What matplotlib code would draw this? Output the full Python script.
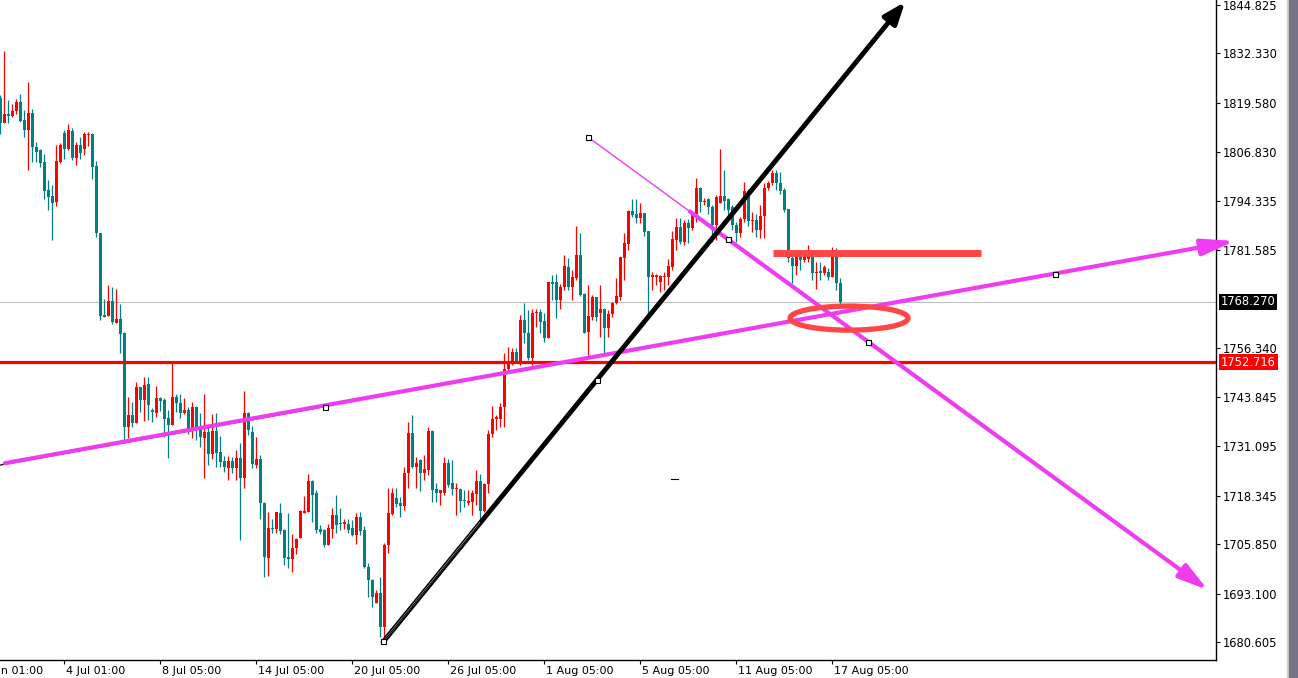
import numpy as np
import matplotlib.pyplot as plt
import matplotlib.transforms as mtransforms
from matplotlib.patches import Ellipse, Rectangle

# H4 candles (price units)
opens = [
    1820.85, 1814.40, 1816.72, 1816.21, 1817.49, 1819.81, 1815.17, 1812.60, 1816.98, 1808.21,
    1807.44, 1804.35, 1797.13, 1795.58, 1794.04, 1804.35, 1811.82, 1807.70, 1812.34, 1805.38,
    1808.73, 1807.70, 1811.31, 1811.56, 1803.32, 1786.04, 1764.90, 1764.65, 1768.51, 1762.84,
    1763.87, 1760.26, 1736.03, 1739.12, 1737.06, 1746.34, 1742.99, 1747.11, 1740.41, 1739.64,
    1743.50, 1742.99, 1738.35, 1736.54, 1743.76, 1742.22, 1739.64, 1740.41, 1735.51, 1741.18,
    1736.03, 1733.19, 1734.74, 1729.07, 1735.00, 1729.58, 1727.27, 1725.46, 1727.27, 1725.46,
    1728.04, 1722.88, 1739.64, 1734.74, 1726.23, 1727.78, 1716.44, 1702.26, 1709.99, 1709.73,
    1713.86, 1709.48, 1702.52, 1702.00, 1704.84, 1707.41, 1713.86, 1714.12, 1722.11, 1719.01,
    1709.73, 1709.48, 1705.61, 1709.73, 1713.34, 1711.28, 1711.02, 1711.02, 1709.99, 1708.19,
    1712.83, 1709.48, 1699.94, 1696.59, 1690.66, 1693.24, 1684.47, 1705.61, 1713.60, 1717.73,
    1716.44, 1715.66, 1724.17, 1734.48, 1725.72, 1727.52, 1724.17, 1724.94, 1735.00, 1720.04,
    1719.01, 1719.01, 1726.75, 1721.59, 1720.04, 1720.04, 1717.21, 1716.44, 1716.69, 1718.76,
    1722.11, 1714.37, 1721.33, 1734.22, 1738.09, 1738.09, 1741.18, 1750.98, 1752.78, 1755.37,
    1752.78, 1763.61, 1760.26, 1753.82, 1765.42, 1765.68, 1763.36, 1758.97, 1773.41, 1773.41,
    1768.77, 1772.12, 1777.28, 1772.12, 1774.44, 1780.37, 1770.32, 1760.52, 1764.39, 1769.54,
    1765.42, 1766.45, 1761.55, 1765.16, 1768.00, 1769.54, 1779.60, 1783.21, 1791.71, 1790.94,
    1789.91, 1791.20, 1786.56, 1774.70, 1774.70, 1773.41, 1774.70, 1774.70, 1777.28, 1784.24,
    1787.59, 1783.72, 1788.62, 1787.33, 1790.94, 1797.64, 1794.04, 1794.81, 1792.75, 1788.10,
    1793.78, 1795.58, 1794.81, 1792.75, 1788.10, 1786.04, 1789.65, 1796.87, 1789.14, 1789.39,
    1786.82, 1790.43, 1797.64, 1798.93, 1801.51, 1798.93, 1797.13, 1792.23, 1779.60, 1777.53,
    1779.86, 1779.08, 1779.34, 1780.11, 1775.73, 1776.25, 1775.73, 1775.99, 1774.70, 1780.37,
    1773.15,
]
highs = [
    1821.62, 1832.96, 1820.33, 1819.30, 1820.59, 1821.88, 1817.75, 1824.97, 1818.01, 1809.50,
    1807.70, 1806.41, 1799.71, 1798.42, 1808.73, 1809.24, 1812.60, 1814.14, 1813.11, 1809.50,
    1810.79, 1812.08, 1812.08, 1811.82, 1804.60, 1786.04, 1769.03, 1772.64, 1772.12, 1771.61,
    1767.74, 1760.52, 1743.76, 1742.47, 1747.63, 1746.34, 1748.92, 1748.92, 1740.93, 1746.60,
    1743.76, 1743.50, 1740.41, 1752.53, 1744.54, 1744.54, 1743.50, 1741.18, 1742.47, 1741.44,
    1739.64, 1744.54, 1736.54, 1739.38, 1739.64, 1733.71, 1728.55, 1728.55, 1728.30, 1730.10,
    1731.90, 1745.31, 1739.90, 1736.29, 1733.45, 1728.81, 1716.69, 1714.12, 1712.31, 1714.12,
    1716.44, 1709.73, 1713.86, 1708.45, 1707.41, 1714.63, 1718.24, 1723.91, 1722.37, 1719.79,
    1710.76, 1709.73, 1711.02, 1715.15, 1718.50, 1715.15, 1712.31, 1712.31, 1712.05, 1713.86,
    1714.12, 1710.51, 1700.97, 1696.85, 1694.01, 1697.36, 1706.12, 1720.30, 1720.30, 1720.30,
    1717.98, 1725.72, 1737.32, 1739.12, 1728.30, 1727.78, 1728.81, 1736.03, 1735.26, 1721.59,
    1719.79, 1728.30, 1727.78, 1727.52, 1721.59, 1720.30, 1719.79, 1719.79, 1719.79, 1724.94,
    1723.91, 1721.59, 1735.26, 1741.44, 1739.12, 1742.22, 1755.11, 1756.65, 1756.40, 1756.40,
    1764.90, 1768.00, 1766.19, 1766.45, 1766.45, 1766.45, 1765.42, 1773.41, 1775.21, 1775.47,
    1772.90, 1780.37, 1779.60, 1776.50, 1787.85, 1786.04, 1770.58, 1772.64, 1770.06, 1769.54,
    1772.64, 1766.71, 1766.19, 1768.26, 1774.44, 1779.86, 1786.04, 1791.97, 1794.81, 1794.81,
    1793.78, 1791.20, 1786.56, 1775.99, 1775.47, 1775.21, 1775.99, 1779.34, 1786.56, 1789.91,
    1789.91, 1789.39, 1789.65, 1791.46, 1800.22, 1797.90, 1795.07, 1795.07, 1793.26, 1795.84,
    1807.70, 1802.28, 1795.07, 1793.26, 1788.88, 1790.17, 1799.19, 1797.39, 1791.46, 1790.94,
    1793.26, 1798.93, 1799.45, 1802.28, 1802.28, 1801.77, 1797.64, 1792.23, 1781.66, 1781.66,
    1781.40, 1781.66, 1782.95, 1781.66, 1778.57, 1778.57, 1777.79, 1777.02, 1782.43, 1782.17,
    1774.44,
]
lows = [
    1811.56, 1814.40, 1814.40, 1815.95, 1816.72, 1814.66, 1810.79, 1802.28, 1804.35, 1804.35,
    1803.06, 1794.81, 1791.97, 1784.24, 1793.00, 1804.09, 1805.12, 1807.44, 1804.86, 1803.57,
    1805.12, 1806.15, 1808.47, 1799.96, 1785.01, 1763.61, 1764.39, 1764.65, 1762.58, 1762.84,
    1755.11, 1732.16, 1733.19, 1736.03, 1737.06, 1739.90, 1737.58, 1737.83, 1737.32, 1738.61,
    1740.16, 1733.45, 1728.04, 1736.54, 1739.90, 1738.35, 1739.38, 1734.22, 1733.19, 1732.68,
    1730.87, 1722.88, 1726.23, 1727.78, 1725.72, 1725.72, 1724.43, 1722.37, 1724.17, 1722.37,
    1706.90, 1720.30, 1733.97, 1725.46, 1725.46, 1712.31, 1697.36, 1697.62, 1708.70, 1708.70,
    1708.45, 1700.45, 1699.68, 1698.65, 1703.29, 1707.41, 1713.86, 1714.12, 1711.54, 1708.70,
    1708.45, 1705.09, 1705.61, 1707.41, 1708.70, 1709.48, 1709.73, 1708.70, 1707.93, 1705.87,
    1708.19, 1699.68, 1692.20, 1689.63, 1690.66, 1681.89, 1680.86, 1703.55, 1713.34, 1715.40,
    1712.83, 1714.63, 1720.30, 1725.46, 1720.30, 1719.53, 1722.37, 1723.66, 1716.69, 1716.69,
    1715.92, 1718.50, 1720.56, 1718.50, 1713.34, 1714.12, 1715.40, 1715.92, 1713.34, 1715.92,
    1711.28, 1714.12, 1719.01, 1733.45, 1735.26, 1736.03, 1736.03, 1750.21, 1752.01, 1752.78,
    1752.01, 1757.69, 1753.30, 1752.01, 1761.81, 1760.26, 1757.94, 1758.97, 1768.77, 1764.13,
    1766.45, 1771.35, 1771.35, 1768.77, 1773.93, 1769.80, 1760.26, 1754.59, 1763.61, 1763.36,
    1759.23, 1754.33, 1759.23, 1764.39, 1767.74, 1768.77, 1773.93, 1781.66, 1790.17, 1788.62,
    1788.62, 1785.27, 1764.65, 1771.35, 1772.64, 1770.83, 1771.35, 1772.64, 1776.50, 1781.66,
    1783.21, 1782.95, 1783.46, 1786.82, 1788.88, 1791.46, 1793.26, 1790.94, 1783.72, 1784.24,
    1793.78, 1791.97, 1790.68, 1786.82, 1783.72, 1785.01, 1788.88, 1787.85, 1786.30, 1785.01,
    1784.75, 1784.75, 1797.13, 1798.42, 1797.13, 1796.10, 1791.46, 1778.57, 1773.15, 1775.21,
    1776.50, 1778.57, 1778.57, 1773.93, 1771.61, 1773.93, 1775.21, 1773.93, 1774.70, 1771.35,
    1767.48,
]
closes = [
    1814.40, 1816.72, 1816.21, 1817.49, 1819.81, 1814.92, 1812.60, 1816.98, 1808.21, 1806.92,
    1804.09, 1796.87, 1795.32, 1793.78, 1804.60, 1808.73, 1807.70, 1812.60, 1805.38, 1808.73,
    1806.67, 1811.56, 1811.56, 1803.06, 1786.04, 1764.65, 1764.39, 1768.51, 1763.10, 1763.87,
    1760.00, 1736.03, 1739.12, 1737.06, 1746.34, 1742.99, 1746.86, 1741.70, 1739.90, 1743.50,
    1742.73, 1738.09, 1736.54, 1743.76, 1742.22, 1739.64, 1740.41, 1735.00, 1741.18, 1735.26,
    1733.45, 1734.74, 1729.07, 1735.00, 1729.33, 1727.01, 1725.72, 1727.27, 1725.46, 1728.04,
    1722.88, 1739.64, 1735.26, 1726.49, 1727.78, 1716.44, 1702.52, 1709.99, 1709.73, 1714.12,
    1709.22, 1702.26, 1702.00, 1704.84, 1707.16, 1714.37, 1714.37, 1722.11, 1718.50, 1709.48,
    1708.96, 1705.61, 1709.99, 1713.34, 1710.76, 1711.02, 1711.54, 1709.48, 1708.19, 1712.83,
    1709.22, 1699.94, 1696.59, 1692.20, 1693.24, 1684.47, 1705.61, 1713.86, 1719.01, 1716.18,
    1715.66, 1724.17, 1734.48, 1725.72, 1726.75, 1724.17, 1725.20, 1735.00, 1719.79, 1719.01,
    1719.79, 1726.75, 1721.08, 1720.04, 1720.30, 1716.95, 1716.95, 1716.95, 1719.01, 1722.11,
    1714.37, 1721.33, 1734.22, 1738.09, 1738.61, 1741.18, 1750.98, 1753.04, 1755.37, 1753.04,
    1763.61, 1760.26, 1753.82, 1765.42, 1765.68, 1763.10, 1758.97, 1773.41, 1772.90, 1768.77,
    1772.12, 1777.53, 1772.12, 1774.70, 1780.37, 1770.06, 1760.26, 1764.65, 1769.54, 1764.39,
    1766.45, 1761.55, 1765.16, 1768.00, 1769.80, 1779.86, 1783.46, 1791.71, 1790.68, 1789.91,
    1791.20, 1786.30, 1774.70, 1775.21, 1775.21, 1774.96, 1774.96, 1777.53, 1784.50, 1787.59,
    1783.72, 1788.62, 1787.33, 1790.94, 1797.64, 1794.04, 1794.29, 1792.75, 1788.10, 1795.32,
    1795.58, 1794.29, 1791.97, 1788.10, 1786.04, 1789.65, 1796.87, 1789.14, 1789.39, 1786.82,
    1790.43, 1797.64, 1798.93, 1801.51, 1798.93, 1796.87, 1791.97, 1779.60, 1777.53, 1779.86,
    1779.08, 1779.86, 1780.37, 1775.73, 1775.99, 1775.73, 1777.28, 1774.70, 1780.37, 1773.15,
    1768.27,
]

time_ticks = [-7.3, 16, 40, 64, 88, 112, 136, 160, 184, 208]
time_labels = ['30 Jun 01:00', '4 Jul 01:00', '8 Jul 05:00', '14 Jul 05:00', '20 Jul 05:00',
               '26 Jul 05:00', '1 Aug 05:00', '5 Aug 05:00', '11 Aug 05:00', '17 Aug 05:00']
price_ticks = [1844.825, 1832.330, 1819.580, 1806.830, 1794.335, 1781.585, 1756.340,
               1743.845, 1731.095, 1718.345, 1705.850, 1693.100, 1680.605]

bid_price = 1768.270
level_price = 1752.716

# hand drawn objects (bar index, price)
up_line = [(-0.075, 1726.49), (308.7, 1783.98)]
up_line_base = [(-0.075, 1726.2), (81.2, 1741.3)]
down_line = [(146.9, 1810.79), (301.9, 1694.01)]
black_line = [(95.7, 1680.6), (226.2, 1845.6)]
black_base = [(95.7, 1680.6), (149.2, 1748.2)]
anchors = [(81.2, 1741.3), (263.7, 1775.6), (146.9, 1810.79), (181.9, 1784.42),
           (216.9, 1758.05), (149.2, 1748.2), (95.7, 1680.86)]
zone_bar = [(193.2, 1781.0), (245.2, 1781.0)]
zone_ellipse = (212.2, 1764.1, 29.5, 6.2)

teal = '#008080'
red = '#ff0000'
pink = '#f03cf0'
soft_red = '#ff4545'

W, H = 1298, 678
fig = plt.figure(figsize=(W / 100, H / 100), dpi=100)
ax = fig.add_axes([0, 18 / H, 1216 / W, 660 / H])

idx = np.arange(len(opens))
o = np.array(opens)
c = np.array(closes)
cols = np.where(c >= o, red, teal)
ax.vlines(idx, lows, highs, colors=cols, linewidth=0.9, zorder=2)
body = np.maximum(np.abs(c - o), 0.3)
ax.bar(idx, body, bottom=np.minimum(o, c), width=0.75, color=cols, linewidth=0, zorder=3)

ax.axhline(bid_price, color='#c0c0c0', lw=0.8, zorder=1)
ax.axhline(level_price, color=red, lw=2.3, zorder=4)

# rising pink trend line
ax.plot(*zip(*up_line_base), color='black', lw=0.9, zorder=4)
ax.annotate('', xy=up_line[1], xytext=(up_line[0][0] + 1.2, up_line[0][1] + 0.2),
            arrowprops=dict(arrowstyle='-|>,head_length=20,head_width=5', mutation_scale=1,
                            color=pink, lw=3, shrinkA=0, shrinkB=0),
            annotation_clip=False, zorder=5)

# falling pink line
ax.plot([down_line[0][0], 216.9], [down_line[0][1], 1758.05], color=pink, lw=1.0, zorder=5)
ax.annotate('', xy=down_line[1], xytext=(172.4, 1791.58),
            arrowprops=dict(arrowstyle='-|>,head_length=18,head_width=5', mutation_scale=1,
                            color=pink, lw=3, shrinkA=0, shrinkB=0),
            annotation_clip=False, zorder=5)

# black arrow from the low
ax.annotate('', xy=black_line[1], xytext=black_line[0],
            arrowprops=dict(arrowstyle='-|>,head_length=13,head_width=5', mutation_scale=1,
                            color='black', lw=3.5, shrinkA=0, shrinkB=0),
            annotation_clip=False, zorder=6)
ax.plot([96.3, 119.9], [1681.4, 1711.3], color='white', lw=1.0, zorder=6)
ax.plot(*zip(*black_base), color='black', lw=0.8, zorder=6)

ax.plot([167.7, 169.4], [1722.6, 1722.6], color='black', lw=0.8, zorder=4)

for x, y in anchors:
    ax.plot(x, y, marker='s', ms=3.6, mfc='white', mec='black', mew=0.8, zorder=7, clip_on=False)

ax.plot(*zip(*zone_bar), color=soft_red, lw=5, solid_capstyle='butt', zorder=6)
ex, ey, ew, eh = zone_ellipse
ax.add_patch(Ellipse((ex, ey), ew, eh, fill=False, ec=soft_red, lw=3.8, zorder=6))

ax.set_xlim(-0.075, 303.925)
ax.set_ylim(1675.96, 1846.11)

for s in ['top', 'left']:
    ax.spines[s].set_visible(False)
for s in ['right', 'bottom']:
    ax.spines[s].set_linewidth(1)
ax.yaxis.tick_right()
ax.set_yticks(price_ticks)
ax.set_yticklabels([f'{p:.3f}' for p in price_ticks])
ax.tick_params(axis='y', direction='out', length=3, pad=2, labelsize=8.3)
ax.set_xticks(time_ticks[1:])
ax.set_xticklabels([])
ax.tick_params(axis='x', direction='out', length=3)
for t, lab in zip(time_ticks, time_labels):
    ax.annotate(lab, xy=(t, 0), xycoords=('data', 'axes fraction'), xytext=(1.5, -4.5),
                textcoords='offset points', ha='left', va='top', fontsize=8,
                annotation_clip=False)

trans = mtransforms.blended_transform_factory(ax.transAxes, ax.transData)
ax.text(1221 / 1216, bid_price, f'{bid_price:.3f}', transform=trans, ha='left', va='center',
        fontsize=8.3, color='white', bbox=dict(boxstyle='square,pad=0.15', fc='black', ec='none'),
        zorder=8)
ax.text(1221 / 1216, level_price, f'{level_price:.3f}', transform=trans, ha='left', va='center',
        fontsize=8.3, color='white', bbox=dict(boxstyle='square,pad=0.15', fc=red, ec='none'),
        zorder=8)

fig.add_artist(Rectangle((1287 / W, 0), 1 / W, 1, transform=fig.transFigure, color='#d0d0d0'))
fig.add_artist(Rectangle((1289 / W, 0), 9 / W, 1, transform=fig.transFigure, color='#77748a'))

fig.savefig('out.png', dpi=100)
